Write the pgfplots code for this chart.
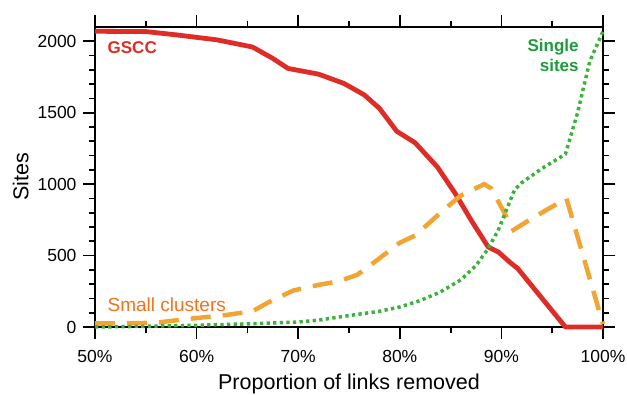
\documentclass[border=0pt]{standalone}
\usepackage{fontspec}
\setmainfont{Liberation Sans}
\usepackage{pgfplots}
\pgfplotsset{compat=1.18}
\usetikzlibrary{calc}
\definecolor{cred}{RGB}{222,45,38}
\definecolor{corange}{RGB}{242,165,50}
\definecolor{cgreen}{RGB}{60,178,60}
\definecolor{tgreen}{RGB}{30,155,60}
\definecolor{torange}{RGB}{240,115,30}
\begin{document}
\begin{tikzpicture}
\begin{axis}[
  scale only axis,
  width=508bp, height=300bp,
  xmin=50, xmax=100, ymin=0, ymax=2100,
  axis line style={line width=2.5bp},
  tick style={line width=1.8bp, black},
  major tick length=12bp, minor tick length=6bp,
  tick align=outside,
  xtick={50,60,70,80,90,100},
  xticklabels={50\%,60\%,70\%,80\%,90\%,100\%},
  minor xtick={55,65,75,85,95},
  ytick={0,500,1000,1500,2000},
  minor ytick={100,200,300,400,600,700,800,900,1100,1200,1300,1400,1600,1700,1800,1900},
  xtick pos=both, ytick pos=both,
  xticklabel pos=bottom, yticklabel pos=left,
  /pgf/number format/assume math mode=true,
  /pgf/number format/1000 sep={},
  tick label style={font=\fontsize{17.5bp}{20bp}\selectfont},
  xticklabel style={yshift=-8bp},
  yticklabel style={xshift=-3bp},
  label style={font=\fontsize{21.5bp}{26bp}\selectfont},
  xlabel={Proportion of links removed},
  ylabel={Sites},
  xlabel style={yshift=-4bp},
  ylabel style={yshift=2bp},
  clip=false,
]
\addplot[cred, line width=4.8bp, line join=round] coordinates {
(50,2070) (55,2068) (58,2045) (62,2010) (65.5,1960) (67.5,1880) (69,1810)
(72,1770) (74.5,1705) (76.5,1625) (78,1530) (79.7,1370) (81.5,1290)
(83.7,1120) (85.5,930) (87,750) (88.7,560) (89.7,525) (90.8,455)
(91.6,410) (96.3,0) (100,0)};
\addplot[corange, line width=4.5bp, dash pattern=on 20bp off 12bp] coordinates {
(50,25) (53,25) (56,30) (59,55) (63,85) (65.5,110) (67,170) (69.5,255)
(72,295) (74,320) (75.8,365) (77.8,470) (80,590) (81.5,640) (82.3,690)
(84,800) (86,920) (88.3,1000) (89,970) (91.2,680) (93,760) (96.4,900) (100,20)};
\addplot[cgreen, line width=3.5bp, dash pattern=on 3.3bp off 3.3bp] coordinates {
(50,0) (55,5) (60,12) (65,22) (70,35) (72,48) (75,80) (78,110) (80,140)
(82,185) (84,245) (86,330) (87.5,430) (88.7,550) (89.7,680) (90.5,820)
(91.3,960) (92,1010) (94,1110) (96.3,1210) (97.5,1500) (98.7,1860) (100,2070)};
\node[anchor=west, text=cred, font=\fontsize{17bp}{20bp}\selectfont\bfseries] at (axis cs:50.9,1958) {GSCC};
\node[anchor=west, text=torange, font=\fontsize{19bp}{20bp}\selectfont] at (axis cs:50.9,154) {Small clusters};
\node[anchor=east, align=right, text=tgreen, font=\fontsize{17bp}{20bp}\selectfont\bfseries] at (axis cs:97.95,1902) {Single\\sites};
\end{axis}
\pgfresetboundingbox
\path ($(current axis.south west)+(-95bp,-68bp)$) rectangle ($(current axis.north east)+(24bp,27bp)$);
\end{tikzpicture}
\end{document}
